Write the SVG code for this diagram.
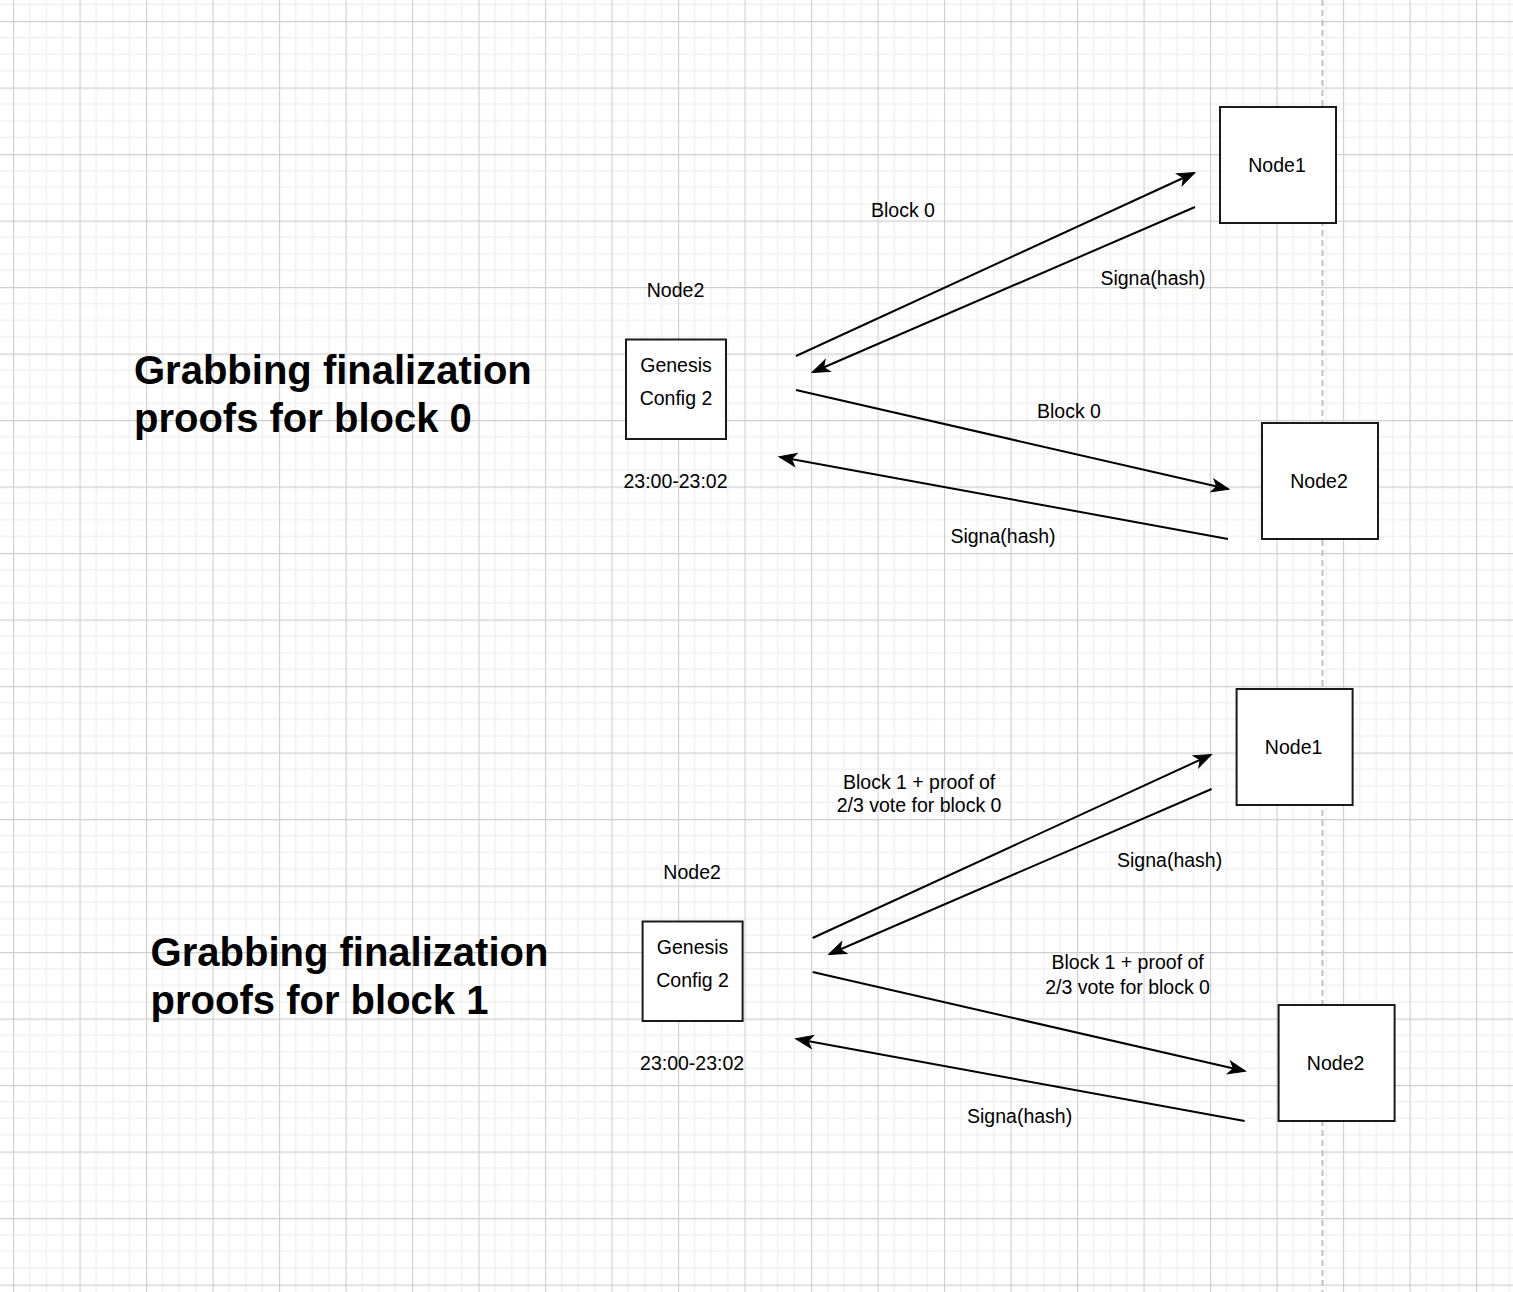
<svg xmlns="http://www.w3.org/2000/svg" width="1513" height="1292" viewBox="0 0 1513 1292">
<style>
.lbl{font-family:"Liberation Sans",Arial,sans-serif;font-size:19.5px;fill:#000;text-anchor:middle}
.title{font-family:"Liberation Sans",Arial,sans-serif;font-size:40px;font-weight:bold;fill:#000}
.box{fill:#fff;stroke:#1a1a1a;stroke-width:2}
.edge{fill:none;stroke:#000;stroke-width:2}
</style>
<defs>
<pattern id="grid" patternUnits="userSpaceOnUse" x="13" y="21" width="66.5" height="66.5">
<path d="M16.625,0V66.5M33.25,0V66.5M49.875,0V66.5M0,16.625H66.5M0,33.25H66.5M0,49.875H66.5" stroke="#f1f1f1" stroke-width="1.5" fill="none"/>
<path d="M0.5,0V66.5M0,0.5H66.5" stroke="#d0d0d0" stroke-width="1.3" fill="none"/>
</pattern>
<marker id="arr" markerUnits="userSpaceOnUse" markerWidth="20" markerHeight="16" refX="16" refY="6.5" orient="auto" overflow="visible">
<path d="M0,0 L17,6.5 L0,13 L4.5,6.5 Z" fill="#000" stroke="#000" stroke-width="1"/>
</marker>
</defs>
<rect width="1513" height="1292" fill="#fff"/>
<rect width="1513" height="1292" fill="url(#grid)"/>
<line x1="1322.5" y1="0" x2="1322.5" y2="1292" stroke="#c0c0c0" stroke-width="2" stroke-dasharray="6 4"/>

<g id="connectors">
<line class="edge" x1="796" y1="356" x2="1194" y2="173" marker-end="url(#arr)"/>
<line class="edge" x1="1195" y1="207" x2="813" y2="372" marker-end="url(#arr)"/>
<line class="edge" x1="796" y1="390" x2="1228" y2="489" marker-end="url(#arr)"/>
<line class="edge" x1="1228" y1="539" x2="780" y2="457" marker-end="url(#arr)"/>
<g transform="translate(16.6,582)">
<line class="edge" x1="796" y1="356" x2="1194" y2="173" marker-end="url(#arr)"/>
<line class="edge" x1="1195" y1="207" x2="813" y2="372" marker-end="url(#arr)"/>
<line class="edge" x1="796" y1="390" x2="1228" y2="489" marker-end="url(#arr)"/>
<line class="edge" x1="1228" y1="539" x2="780" y2="457" marker-end="url(#arr)"/>
</g>
</g>

<g id="section-block0">
<g id="title0"><text class="title" x="134" y="384">Grabbing finalization</text><text class="title" x="134" y="432">proofs for block 0</text></g>
<g id="genesis0"><rect class="box" x="626" y="339.5" width="100" height="99.5"/><text class="lbl" x="676" y="372">Genesis</text><text class="lbl" x="676" y="405">Config 2</text></g>
<text class="lbl" x="675.5" y="297">Node2</text>
<text class="lbl" x="675.5" y="488">23:00-23:02</text>
<g id="node1a"><rect class="box" x="1220" y="107" width="116" height="116"/><text class="lbl" x="1277" y="172">Node1</text></g>
<g id="node2a"><rect class="box" x="1262" y="423" width="116" height="116"/><text class="lbl" x="1319" y="488">Node2</text></g>
<text class="lbl" x="903" y="217">Block 0</text>
<text class="lbl" x="1153" y="285">Signa(hash)</text>
<text class="lbl" x="1069" y="418">Block 0</text>
<text class="lbl" x="1003" y="543">Signa(hash)</text>
</g>

<g id="section-block1" transform="translate(16.6,582)">
<g id="title1"><text class="title" x="134" y="384">Grabbing finalization</text><text class="title" x="134" y="432">proofs for block 1</text></g>
<g id="genesis1"><rect class="box" x="626" y="339.5" width="100" height="99.5"/><text class="lbl" x="676" y="372">Genesis</text><text class="lbl" x="676" y="405">Config 2</text></g>
<text class="lbl" x="675.5" y="297">Node2</text>
<text class="lbl" x="675.5" y="488">23:00-23:02</text>
<g id="node1b"><rect class="box" x="1220" y="107" width="116" height="116"/><text class="lbl" x="1277" y="172">Node1</text></g>
<g id="node2b"><rect class="box" x="1262" y="423" width="116" height="116"/><text class="lbl" x="1319" y="488">Node2</text></g>
<text class="lbl" x="902.5" y="207">Block 1 + proof of</text>
<text class="lbl" x="902.5" y="230">2/3 vote for block 0</text>
<text class="lbl" x="1153" y="285">Signa(hash)</text>
<text class="lbl" x="1111" y="387">Block 1 + proof of</text>
<text class="lbl" x="1111" y="412">2/3 vote for block 0</text>
<text class="lbl" x="1003" y="541">Signa(hash)</text>
</g>
</svg>
